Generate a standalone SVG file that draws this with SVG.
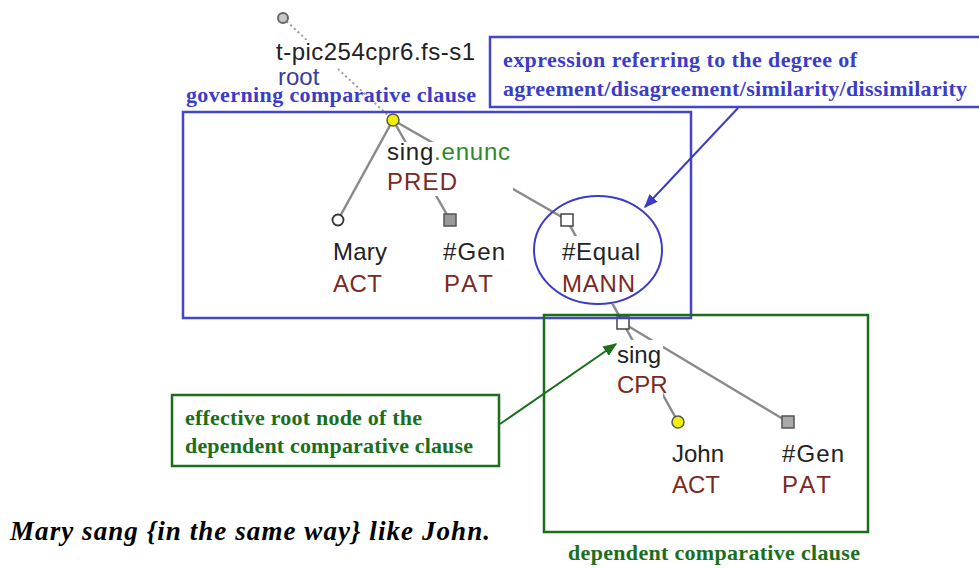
<svg xmlns="http://www.w3.org/2000/svg" width="979" height="568" viewBox="0 0 979 568">
<style>
.t{font-family:"Liberation Sans",Arial,sans-serif;font-size:24px;fill:#222}
.f{fill:#7a2a22}
.g{fill:#2a8a2a}
.b{font-family:"Liberation Serif","Times New Roman",serif;font-weight:bold;font-size:22px}
.bl{fill:#3c3cc8}
.gr{fill:#1b6e1b}
.edge{stroke:#8a8a8a;stroke-width:2.5;fill:none}
.bg{fill:#fff}
</style>
<defs>
<marker id="ab" viewBox="0 0 10 10" refX="9" refY="5" markerWidth="7" markerHeight="7" orient="auto"><path d="M0,1 L10,5 L0,9 z" fill="#3c3cc8"/></marker>
<marker id="ag" viewBox="0 0 10 10" refX="9" refY="5" markerWidth="7" markerHeight="7" orient="auto"><path d="M0,1 L10,5 L0,9 z" fill="#1b6e1b"/></marker>
</defs>
<rect width="979" height="568" fill="#fff"/>
<g id="connectors">
<line x1="283" y1="18" x2="393" y2="120" stroke="#9a9a9a" stroke-width="2" stroke-dasharray="2,3"/>
<line class="edge" x1="393" y1="120" x2="338" y2="220"/>
<line class="edge" x1="393" y1="120" x2="450" y2="220"/>
<line class="edge" x1="393" y1="120" x2="567" y2="220"/>
<line class="edge" x1="567" y1="220" x2="623" y2="323"/>
<line class="edge" x1="623" y1="323" x2="678" y2="422"/>
<line class="edge" x1="623" y1="323" x2="788" y2="422"/>
</g>
<g id="n-root">
<rect class="bg" x="274" y="40" width="204" height="28"/>
<circle cx="283" cy="18" r="5" fill="#c8c8c8" stroke="#666" stroke-width="2"/>
<text class="t" x="276" y="60" textLength="199">t-pic254cpr6.fs-s1</text>
<text class="t" x="278" y="85" style="fill:#3a3aa0">root</text>
</g>
<g id="n-sing">
<rect class="bg" x="385" y="142" width="128" height="54"/>
<circle cx="393" cy="120" r="6" fill="#f0f000" stroke="#555" stroke-width="1.5"/>
<text class="t" x="387" y="160" textLength="123">sing<tspan class="g">.enunc</tspan></text>
<text class="t f" x="387" y="190" textLength="70">PRED</text>
</g>
<g id="n-mary">
<rect class="bg" x="331" y="240" width="60" height="58"/>
<circle cx="338" cy="220" r="5.5" fill="#fff" stroke="#333" stroke-width="1.8"/>
<text class="t" x="333" y="260" textLength="54">Mary</text>
<text class="t f" x="333" y="292" textLength="49">ACT</text>
</g>
<g id="n-gen1">
<rect x="444" y="214" width="12" height="12" fill="#999" stroke="#555" stroke-width="1.5"/>
<text class="t" x="443" y="260" textLength="62">#Gen</text>
<text class="t f" x="444" y="292" textLength="49">PAT</text>
</g>
<g id="n-equal">
<rect class="bg" x="560" y="236" width="82" height="68"/>
<rect x="561" y="214" width="12" height="12" fill="#fff" stroke="#444" stroke-width="1.5"/>
<text class="t" x="562" y="260" textLength="78">#Equal</text>
<text class="t f" x="562" y="292" textLength="73">MANN</text>
</g>
<g id="n-sing2">
<rect class="bg" x="615" y="340" width="48" height="58"/>
<rect x="617" y="317" width="12" height="12" fill="#fff" stroke="#444" stroke-width="1.5"/>
<text class="t" x="617" y="363">sing</text>
<text class="t f" x="617" y="393">CPR</text>
</g>
<g id="n-john">
<circle cx="678" cy="422" r="6" fill="#f0f000" stroke="#555" stroke-width="1.5"/>
<text class="t" x="672" y="462">John</text>
<text class="t f" x="672" y="493">ACT</text>
</g>
<g id="n-gen2">
<rect x="782" y="416" width="12" height="12" fill="#aaa" stroke="#555" stroke-width="1.5"/>
<text class="t" x="782" y="462" textLength="62">#Gen</text>
<text class="t f" x="782" y="493" textLength="49">PAT</text>
</g>
<g id="governing">
<rect x="183" y="112" width="508" height="206" fill="none" stroke="#4444cc" stroke-width="2.5"/>
<text class="b bl" x="186" y="102" textLength="290">governing comparative clause</text>
</g>
<g id="dependent">
<rect x="544" y="315" width="324" height="217" fill="none" stroke="#1b6e1b" stroke-width="2.5"/>
<text class="b gr" x="568" y="560" textLength="292">dependent comparative clause</text>
</g>
<g id="note-expression">
<rect x="490" y="37" width="500" height="70" fill="#fff" stroke="#4444cc" stroke-width="2.5"/>
<text class="b bl" x="503" y="67" textLength="354">expression referring to the degree of</text>
<text class="b bl" x="503" y="96" textLength="464">agreement/disagreement/similarity/dissimilarity</text>
<ellipse cx="598" cy="250" rx="64" ry="54" fill="none" stroke="#3c3cc8" stroke-width="2"/>
<line x1="738" y1="108" x2="645" y2="207" stroke="#3c3cc8" stroke-width="2" marker-end="url(#ab)"/>
</g>
<g id="note-effective">
<rect x="172" y="395" width="327" height="71" fill="#fff" stroke="#1b6e1b" stroke-width="2.5"/>
<text class="b gr" x="185" y="425" textLength="237">effective root node of the</text>
<text class="b gr" x="185" y="453" textLength="288">dependent comparative clause</text>
<line x1="500" y1="424" x2="616" y2="344" stroke="#1b6e1b" stroke-width="2" marker-end="url(#ag)"/>
</g>
<text x="10" y="540" font-family="'Liberation Serif','Times New Roman',serif" font-weight="bold" font-style="italic" font-size="27" fill="#000" textLength="480">Mary sang {in the same way} like John.</text>
</svg>
